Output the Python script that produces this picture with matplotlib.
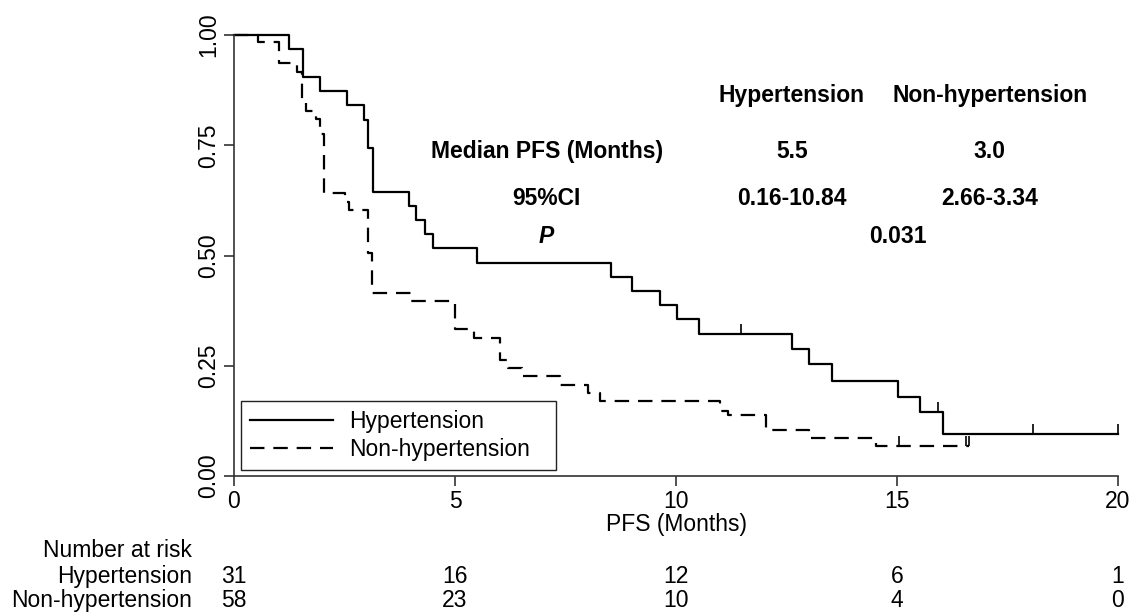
import numpy as np
import matplotlib
matplotlib.use('Agg')
import matplotlib.pyplot as plt

# Kaplan-Meier steps (time in months, survival)
htn_t = [0, 1.25, 1.55, 1.95, 2.55, 2.94, 3.04, 3.15, 3.95, 4.12, 4.33, 4.50,
         5.50, 8.54, 9.00, 9.63, 10.03, 10.51, 12.62, 13.02, 13.52, 15.02,
         15.52, 16.04, 20.0]
htn_s = [1.0, 0.968, 0.905, 0.873, 0.841, 0.808, 0.744, 0.645, 0.613, 0.581,
         0.549, 0.516, 0.484, 0.452, 0.420, 0.388, 0.355, 0.323, 0.288, 0.254,
         0.216, 0.180, 0.144, 0.096, 0.096]
htn_cens = [11.48, 15.92, 18.07, 20.0]

non_t = [0, 0.54, 1.02, 1.43, 1.53, 1.63, 1.86, 1.95, 2.04, 2.51, 2.60, 3.03,
         3.12, 4.00, 5.00, 5.42, 6.02, 6.20, 6.52, 7.38, 8.02, 8.29, 11.00,
         11.17, 12.03, 13.00, 14.52, 16.62]
non_s = [1.0, 0.984, 0.936, 0.917, 0.845, 0.828, 0.810, 0.776, 0.641, 0.621,
         0.603, 0.505, 0.414, 0.397, 0.333, 0.313, 0.263, 0.245, 0.226, 0.207,
         0.188, 0.171, 0.148, 0.139, 0.104, 0.086, 0.068, 0.068]
non_cens = [15.04, 16.55, 16.62]

groups = ['Hypertension', 'Non-hypertension']
risk_times = [0, 5, 10, 15, 20]
risk_htn = [31, 16, 12, 6, 1]
risk_non = [58, 23, 10, 4, 0]

median_pfs = ['5.5', '3.0']
ci95 = ['0.16-10.84', '2.66-3.34']
p_value = '0.031'

FS = 16.5
plt.rcParams['font.family'] = ['Liberation Sans', 'DejaVu Sans']
plt.rcParams['font.size'] = FS


def surv_at(ts, ss, t):
    idx = np.searchsorted(ts, t, side='right') - 1
    return np.asarray(ss)[idx]


fig = plt.figure(figsize=(11.35, 6.12), dpi=100)
W, H = 1135, 612
x0, x1, ytop, ybot = 234, 1118, 35, 476
ax = fig.add_axes([x0 / W, 1 - ybot / H, (x1 - x0) / W, (ybot - ytop) / H])

ax.step(htn_t, htn_s, where='post', color='black', lw=1.6,
        label=groups[0], clip_on=False)
ax.step(non_t, non_s, where='post', color='black', lw=1.6,
        dashes=(6.5, 4), label=groups[1], clip_on=False)
ax.plot(htn_cens, surv_at(htn_t, htn_s, htn_cens), linestyle='none',
        marker=2, markersize=7, mew=1.2, color='black', clip_on=False)
ax.plot(non_cens, surv_at(non_t, non_s, non_cens), linestyle='none',
        marker=2, markersize=7, mew=1.2, color='black', clip_on=False)

ax.set_xlim(0, 20)
ax.set_ylim(0, 1)
ax.spines['top'].set_visible(False)
ax.spines['right'].set_visible(False)
for sp in ('left', 'bottom'):
    ax.spines[sp].set_color('#333333')
    ax.spines[sp].set_linewidth(1.2)
ax.set_xticks(risk_times)
ax.set_yticks([0, 0.25, 0.5, 0.75, 1.0])
ax.set_yticklabels([f'{v:.2f}' for v in ax.get_yticks()], rotation=90,
                   va='center')
ax.tick_params(axis='both', length=7, width=1.2, color='#333333',
               labelsize=FS, pad=3)
ax.set_xlabel('PFS (Months)', fontsize=FS, labelpad=0)

leg = ax.legend(loc='lower left', bbox_to_anchor=(0.008, 0.0136, 0.356, 0.15),
                mode='expand', borderaxespad=0, fancybox=False,
                edgecolor='#222222', framealpha=1, handlelength=3.6,
                handletextpad=0.7, borderpad=0.4, labelspacing=0.2,
                fontsize=FS)
leg.get_frame().set_linewidth(1.0)

# summary table in the plot
tb = dict(fontsize=16.5, fontweight='bold', ha='center', va='center')
col_x = [12.62, 17.1]
ax.text(col_x[0], 0.862, groups[0], **tb)
ax.text(col_x[1], 0.862, groups[1], **tb)
ax.text(7.08, 0.735, 'Median PFS (Months)', **tb)
ax.text(col_x[0], 0.735, median_pfs[0], **tb)
ax.text(col_x[1], 0.735, median_pfs[1], **tb)
ax.text(7.06, 0.630, '95%CI', **tb)
ax.text(col_x[0], 0.630, ci95[0], **tb)
ax.text(col_x[1], 0.630, ci95[1], **tb)
ax.text(7.06, 0.542, 'P', fontstyle='italic', **tb)
ax.text(15.02, 0.542, p_value, **tb)

# number at risk
xt = ax.get_xaxis_transform()
lab_x = -0.95
ax.text(lab_x, -0.168, 'Number at risk', ha='right', va='center',
        transform=xt)
ax.text(lab_x, -0.227, groups[0], ha='right', va='center', transform=xt)
ax.text(lab_x, -0.283, groups[1], ha='right', va='center', transform=xt)
for t, a, b in zip(risk_times, risk_htn, risk_non):
    ax.text(t, -0.227, str(a), ha='center', va='center', transform=xt)
    ax.text(t, -0.283, str(b), ha='center', va='center', transform=xt)

fig.savefig('out.png', dpi=100)
